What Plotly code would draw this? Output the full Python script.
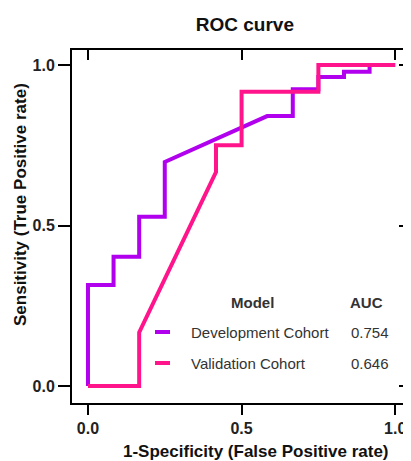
import plotly.graph_objects as go

# ---- data ----
cohorts = ["Development Cohort", "Validation Cohort"]
auc_values = ["0.754", "0.646"]
colors = ["#B000EE", "#FF148C"]

dev_fpr = [0, 0, 0.0833, 0.0833, 0.1667, 0.1667, 0.25, 0.25, 0.5833, 0.6667, 0.6667,
           0.75, 0.75, 0.8333, 0.8333, 0.9167, 0.9167, 1.0]
dev_tpr = [0, 0.315, 0.315, 0.403, 0.403, 0.527, 0.527, 0.698, 0.841, 0.841, 0.925,
           0.925, 0.963, 0.963, 0.979, 0.979, 1.0, 1.0]

val_fpr = [0, 0.1667, 0.1667, 0.4167, 0.4167, 0.5, 0.5, 0.75, 0.75, 1.0]
val_tpr = [0, 0, 0.1667, 0.6667, 0.75, 0.75, 0.9167, 0.9167, 1.0, 1.0]

tick_vals = [0, 0.5, 1.0]
tick_text = ["0.0", "0.5", "1.0"]

FONT = "Liberation Sans, Arial, sans-serif"
TXT = "#222222"

# page body has an 8px default margin; figure is sized to fit the window
W, H = 403, 453

fig = go.Figure()
fig.add_trace(go.Scatter(x=dev_fpr, y=dev_tpr, mode="lines",
                         line=dict(color=colors[0], width=4), name=cohorts[0],
                         showlegend=False))
fig.add_trace(go.Scatter(x=val_fpr, y=val_tpr, mode="lines",
                         line=dict(color=colors[1], width=4), name=cohorts[1],
                         showlegend=False))
# invisible trace to activate mirrored inward-tick axes
fig.add_trace(go.Scatter(x=[None], y=[None], xaxis="x2", yaxis="y2",
                         showlegend=False, hoverinfo="skip"))

xr = [-0.052, 1.045]
yr = [-0.053, 1.047]

fig.update_layout(
    width=W, height=H,
    margin=dict(l=64, r=2, t=42, b=58, autoexpand=False),
    paper_bgcolor="white", plot_bgcolor="white",
    font=dict(family=FONT, color=TXT),
    title=dict(text="<b>ROC curve</b>", x=0.513, xanchor="center",
               xref="paper", y=1 - 16 / H, yref="container",
               yanchor="middle", automargin=False,
               font=dict(size=19, color="#111111")),
    xaxis=dict(range=xr, tickvals=tick_vals, ticktext=tick_text, automargin=False,
               ticks="outside", ticklen=10, tickwidth=2, tickcolor="black",
               showline=True, linewidth=2, linecolor="black", mirror=True,
               showgrid=False, zeroline=False,
               tickfont=dict(size=16, family=FONT, color=TXT, weight="bold")),
    yaxis=dict(range=yr, tickvals=tick_vals, ticktext=tick_text, automargin=False,
               ticks="outside", ticklen=12, tickwidth=2, tickcolor="black",
               showline=True, linewidth=2, linecolor="black", mirror=True,
               showgrid=False, zeroline=False,
               tickfont=dict(size=16, family=FONT, color=TXT, weight="bold")),
    xaxis2=dict(range=xr, overlaying="x", side="top", tickvals=tick_vals,
                automargin=False,
                ticks="inside", ticklen=10, tickwidth=2, tickcolor="black",
                showticklabels=False, showgrid=False, zeroline=False, showline=False),
    yaxis2=dict(range=yr, overlaying="y", side="right", tickvals=tick_vals,
                automargin=False,
                ticks="inside", ticklen=10, tickwidth=2, tickcolor="black",
                showticklabels=False, showgrid=False, zeroline=False, showline=False),
)

# ---- helpers: reference-pixel -> paper fraction ----
def px_x(px):
    return (px - 72) / 337.0

def px_y(py):
    return (403 - py) / 353.0

# axis titles
fig.add_annotation(text="<b>1-Specificity (False Positive rate)</b>",
                   x=px_x(256), y=px_y(452), xref="paper", yref="paper",
                   xanchor="center", yanchor="middle", showarrow=False,
                   font=dict(size=17, family=FONT, color="#111111"))
fig.add_annotation(text="<b>Sensitivity (True Positive rate)</b>",
                   x=px_x(20), y=px_y(205), xref="paper", yref="paper",
                   xanchor="center", yanchor="middle", showarrow=False,
                   textangle=-90,
                   font=dict(size=17, family=FONT, color="#111111"))

# ---- custom legend table ----
anns = [
    dict(text="<b>Model</b>", x=px_x(252), y=px_y(302), xanchor="center"),
    dict(text="<b>AUC</b>", x=px_x(366), y=px_y(302), xanchor="center"),
]
rows_y = [332, 363]
for name, auc, col, ry in zip(cohorts, auc_values, colors, rows_y):
    anns.append(dict(text=name, x=px_x(189), y=px_y(ry), xanchor="left"))
    anns.append(dict(text=auc, x=px_x(349), y=px_y(ry), xanchor="left"))
    fig.add_shape(type="line", xref="paper", yref="paper",
                  x0=px_x(155), x1=px_x(170), y0=px_y(ry), y1=px_y(ry),
                  line=dict(color=col, width=4))
for a in anns:
    a.update(xref="paper", yref="paper", yanchor="middle", showarrow=False,
             font=dict(size=15, family=FONT, color="#333333"))
    fig.add_annotation(**a)

fig.write_html("out.html")
